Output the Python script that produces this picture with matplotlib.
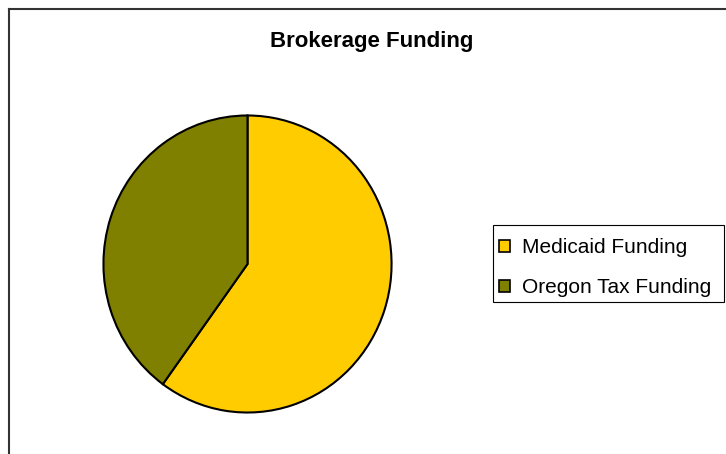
import matplotlib.pyplot as plt
from matplotlib.patches import Patch, Rectangle
from matplotlib.lines import Line2D

# data
labels = ['Medicaid Funding', 'Oregon Tax Funding']
shares = [60, 40]
colors = ['#FFCC00', '#808000']

plt.rcParams['font.family'] = ['Liberation Sans', 'DejaVu Sans']

W, H = 726, 454
fig = plt.figure(figsize=(W / 100, H / 100), dpi=100)

# pie area in pixels: x 102..393, y 114..414
ax = fig.add_axes([102 / W, 1 - 414 / H, 291 / W, 300 / H])
ax.pie(shares, colors=colors, startangle=90, counterclock=False,
       wedgeprops=dict(edgecolor='black', linewidth=1.5))
ax.set_aspect('auto')
ax.set_xlim(-1.01, 1.01)
ax.set_ylim(-1.01, 1.01)
ax.axis('off')

fig.text(372 / W, 1 - 47 / H, 'Brokerage Funding', ha='center', va='baseline',
         fontsize=16, fontweight='bold')

# chart frame (runs off right and bottom edges)
fig.add_artist(Line2D([9 / W, 9 / W], [0, 1 - 9 / H], color='#333333', lw=1.5))
fig.add_artist(Line2D([9 / W, 1], [1 - 9 / H, 1 - 9 / H], color='#333333', lw=1.5))

handles = [Patch(facecolor=c, edgecolor='black', linewidth=1.2) for c in colors]
leg = fig.legend(handles, labels, loc='upper left',
                 bbox_to_anchor=(493 / W, 1 - 232 / H),
                 fontsize=15, frameon=False,
                 handlelength=0.5, handleheight=0.5,
                 handletextpad=0.6, borderpad=0.3, labelspacing=1.0,
                 borderaxespad=0)

# legend box
fig.add_artist(Rectangle((493 / W, 1 - 302 / H), 231 / W, 77 / H,
                         transform=fig.transFigure, fill=False,
                         edgecolor='black', linewidth=0.8))

fig.savefig('out.png', dpi=100)
